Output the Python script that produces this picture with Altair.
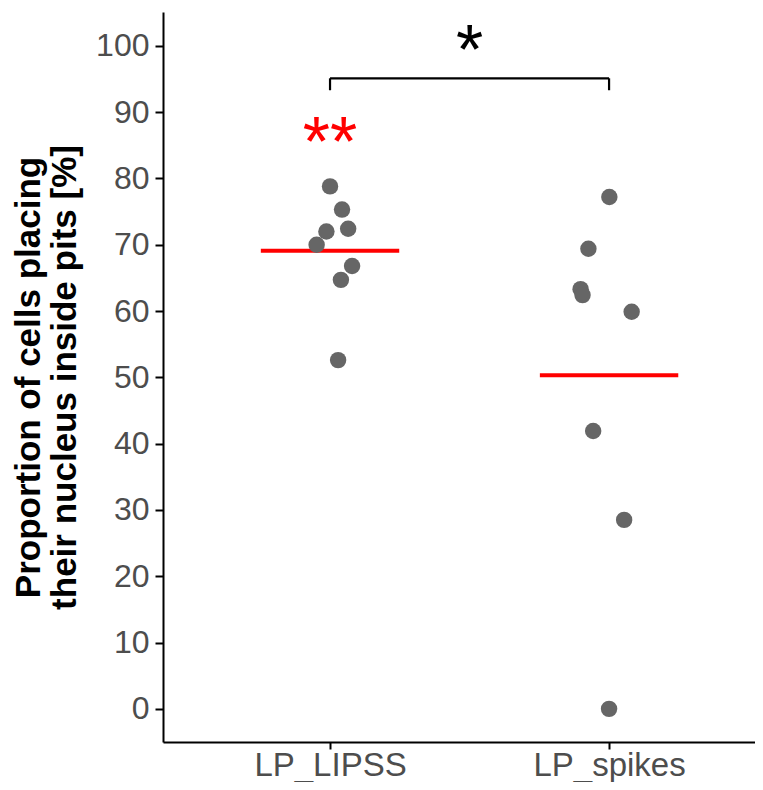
import altair as alt
import pandas as pd

groups = ["LP_LIPSS", "LP_spikes"]
group_pos = [1, 2]

lipss_values = [78.8, 75.3, 72.0, 72.4, 70.0, 66.8, 64.7, 52.6]
lipss_jitter = [0.0, 0.043, -0.013, 0.065, -0.048, 0.079, 0.039, 0.029]
spikes_values = [77.2, 69.4, 63.3, 62.4, 59.9, 41.9, 28.5, 0.0]
spikes_jitter = [0.001, -0.074, -0.102, -0.095, 0.081, -0.057, 0.054, 0.0]

bracket_top = 95.1
bracket_bottom = 93.3

annot_labels = ["**", "*"]
annot_x = [1.0, 1.5]
annot_y = [81.8, 95.8]
annot_colors = ["#ff0000", "#000000"]

FONT = "Liberation Sans"

pts = pd.DataFrame({
    "group": [groups[0]] * len(lipss_values) + [groups[1]] * len(spikes_values),
    "pos": [group_pos[0]] * len(lipss_values) + [group_pos[1]] * len(spikes_values),
    "jit": lipss_jitter + spikes_jitter,
    "value": lipss_values + spikes_values,
})
pts["xp"] = pts["pos"] + pts["jit"]

xscale = alt.Scale(domain=[0.4014, 2.523], nice=False, zero=False)
yscale = alt.Scale(domain=[-5, 105.1], nice=False, zero=False)

label_expr = "datum.value == 1 ? '%s' : '%s'" % (groups[0], groups[1])

xaxis = alt.Axis(values=group_pos, labelExpr=label_expr, title=None, grid=False,
                 labelFontSize=33, labelColor="#4d4d4d", labelFont=FONT,
                 tickColor="#000000", tickWidth=2, tickSize=7, labelPadding=0,
                 domainColor="#000000", domainWidth=2)
yaxis = alt.Axis(values=list(range(0, 101, 10)), grid=False,
                 title=["Proportion of cells placing", "their nucleus inside pits [%]"],
                 titleFontSize=35, titleFont=FONT, titleFontWeight="bold", titleColor="#000000",
                 titleLineHeight=36, titleX=-135, titleY=365, titleAlign="center",
                 titleBaseline="middle", titleAngle=270,
                 labelFontSize=32, labelColor="#4d4d4d", labelFont=FONT,
                 tickColor="#000000", tickWidth=2, tickSize=8, labelPadding=6,
                 domainColor="#000000", domainWidth=2)

points = alt.Chart(pts).mark_circle(size=270, color="#666666", opacity=1).encode(
    x=alt.X("xp:Q", scale=xscale, axis=xaxis),
    y=alt.Y("value:Q", scale=yscale, axis=yaxis),
)

means = alt.Chart(pts).transform_aggregate(
    mean_value="mean(value)", groupby=["pos"]
).transform_calculate(
    x_lo="datum.pos - 0.248", x_hi="datum.pos + 0.248"
).mark_rule(color="#ff0000", strokeWidth=4).encode(
    x=alt.X("x_lo:Q", scale=xscale),
    x2="x_hi:Q",
    y=alt.Y("mean_value:Q", scale=yscale),
)

br_h = pd.DataFrame({"x1": [group_pos[0]], "x2": [group_pos[1]], "y": [bracket_top]})
br_v = pd.DataFrame({"x": group_pos, "y1": [bracket_top] * 2, "y2": [bracket_bottom] * 2})

bracket_h = alt.Chart(br_h).mark_rule(color="#000000", strokeWidth=2.2).encode(
    x=alt.X("x1:Q", scale=xscale), x2="x2:Q", y=alt.Y("y:Q", scale=yscale))
bracket_v = alt.Chart(br_v).mark_rule(color="#000000", strokeWidth=2.2).encode(
    x=alt.X("x:Q", scale=xscale), y=alt.Y("y1:Q", scale=yscale), y2="y2:Q")

ann = pd.DataFrame({"label": annot_labels, "x": annot_x, "y": annot_y, "c": annot_colors})
texts = alt.Chart(ann).mark_text(font=FONT, fontSize=70, baseline="alphabetic", align="center").encode(
    x=alt.X("x:Q", scale=xscale),
    y=alt.Y("y:Q", scale=yscale),
    text="label:N",
    color=alt.Color("c:N", scale=None),
)

chart = alt.layer(means, points, bracket_h, bracket_v, texts).properties(
    width=592, height=730,
    background="white",
    autosize=alt.AutoSizeParams(type="none"),
    padding={"left": 155, "top": 4, "right": 0, "bottom": 40},
).configure_view(stroke=None)

chart.save("out.html", embed_options={"renderer": "svg", "actions": False})
